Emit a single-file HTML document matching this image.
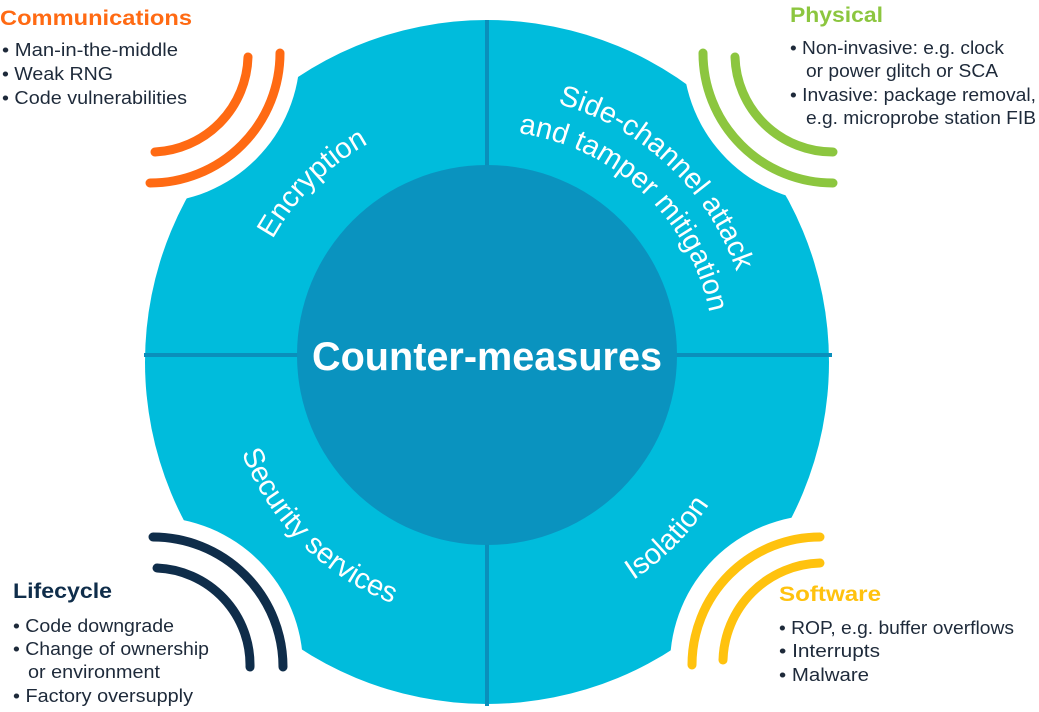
<!DOCTYPE html>
<html><head><meta charset="utf-8"><style>
html,body{margin:0;padding:0;background:#fff;}
svg{display:block;}
text{font-family:"Liberation Sans",sans-serif;}
</style></head><body>
<svg width="1039" height="712" viewBox="0 0 1039 712" xmlns="http://www.w3.org/2000/svg">
<defs>
<mask id="m">
<rect width="1039" height="712" fill="#fff"/>
<circle cx="150" cy="53" r="150" fill="#000"/>
<circle cx="833" cy="53" r="150" fill="#000"/>
<circle cx="153" cy="667" r="150" fill="#000"/>
<circle cx="820" cy="665" r="150" fill="#000"/>
</mask>
<path id="pEnc" d="M 242 358 A 245 245 0 0 1 487 113"/>
<path id="pSide1" d="M 487 94 A 264 264 0 0 1 751 358"/>
<path id="pSide2" d="M 487 131 A 227 227 0 0 1 714 358"/>
<path id="pSec" d="M 224 358 A 263 263 0 0 0 487 621"/>
<path id="pIso" d="M 487 624 A 266 266 0 0 0 753 358"/>
</defs>
<g mask="url(#m)">
<circle cx="487" cy="362" r="342" fill="#00bcdc"/>
</g>
<line x1="487" y1="20" x2="487" y2="706" stroke="#0a8fbb" stroke-width="4"/>
<line x1="144" y1="355" x2="832" y2="355" stroke="#0a8fbb" stroke-width="4"/>
<circle cx="487" cy="355" r="190" fill="#0a93bf"/>
<text x="487" y="370" text-anchor="middle" font-size="40" font-weight="bold" fill="#fff" textLength="350" lengthAdjust="spacingAndGlyphs">Counter-measures</text>

<g font-size="29" fill="#fff">
<text><textPath href="#pEnc" startOffset="50%" text-anchor="middle">Encryption</textPath></text>
<text><textPath href="#pSide1" startOffset="48%" text-anchor="middle">Side-channel attack</textPath></text>
<text><textPath href="#pSide2" startOffset="48%" text-anchor="middle">and tamper mitigation</textPath></text>
<text><textPath href="#pSec" startOffset="50%" text-anchor="middle">Security services</textPath></text>
<text><textPath href="#pIso" startOffset="50%" text-anchor="middle">Isolation</textPath></text>
</g>

<g fill="none" stroke-width="9" stroke-linecap="round">
<path d="M 280 53 A 130 130 0 0 1 150 183" stroke="#ff6a13"/>
<path d="M 248 57 A 98 98 0 0 1 155 152" stroke="#ff6a13"/>
<path d="M 703 53 A 130 130 0 0 0 833 183" stroke="#8cc63f"/>
<path d="M 735 57 A 98 98 0 0 0 833 152" stroke="#8cc63f"/>
<path d="M 153 537 A 130 130 0 0 1 283 667" stroke="#0f2d4a"/>
<path d="M 157 568 A 97 97 0 0 1 250 667" stroke="#0f2d4a"/>
<path d="M 820 537 A 128 128 0 0 0 692 665" stroke="#ffc20e"/>
<path d="M 820 563 A 100 100 0 0 0 723 660" stroke="#ffc20e"/>
</g>

<g font-size="21" font-weight="bold">
<text x="0" y="25" fill="#ff6a13" textLength="192" lengthAdjust="spacingAndGlyphs">Communications</text>
<text x="790" y="22" fill="#8cc63f" textLength="93" lengthAdjust="spacingAndGlyphs">Physical</text>
<text x="13" y="598" fill="#0f2d4a" textLength="99" lengthAdjust="spacingAndGlyphs">Lifecycle</text>
<text x="779" y="601" fill="#ffc20e" textLength="102" lengthAdjust="spacingAndGlyphs">Software</text>
</g>

<g font-size="18" fill="#1e2a3a">
<text x="2" y="56" textLength="176" lengthAdjust="spacingAndGlyphs">• Man-in-the-middle</text>
<text x="2" y="80" textLength="111" lengthAdjust="spacingAndGlyphs">• Weak RNG</text>
<text x="2" y="104" textLength="185" lengthAdjust="spacingAndGlyphs">• Code vulnerabilities</text>

<text x="790" y="54" textLength="214" lengthAdjust="spacingAndGlyphs">• Non-invasive: e.g. clock</text>
<text x="806" y="77" textLength="192" lengthAdjust="spacingAndGlyphs">or power glitch or SCA</text>
<text x="790" y="101" textLength="246" lengthAdjust="spacingAndGlyphs">• Invasive: package removal,</text>
<text x="806" y="124" textLength="230" lengthAdjust="spacingAndGlyphs">e.g. microprobe station FIB</text>

<text x="13" y="632" textLength="161" lengthAdjust="spacingAndGlyphs">• Code downgrade</text>
<text x="13" y="655" textLength="196" lengthAdjust="spacingAndGlyphs">• Change of ownership</text>
<text x="28" y="678" textLength="132" lengthAdjust="spacingAndGlyphs">or environment</text>
<text x="13" y="702" textLength="180" lengthAdjust="spacingAndGlyphs">• Factory oversupply</text>

<text x="779" y="634" textLength="235" lengthAdjust="spacingAndGlyphs">• ROP, e.g. buffer overflows</text>
<text x="779" y="657" textLength="101" lengthAdjust="spacingAndGlyphs">• Interrupts</text>
<text x="779" y="681" textLength="90" lengthAdjust="spacingAndGlyphs">• Malware</text>
</g>
</svg>
</body></html>
